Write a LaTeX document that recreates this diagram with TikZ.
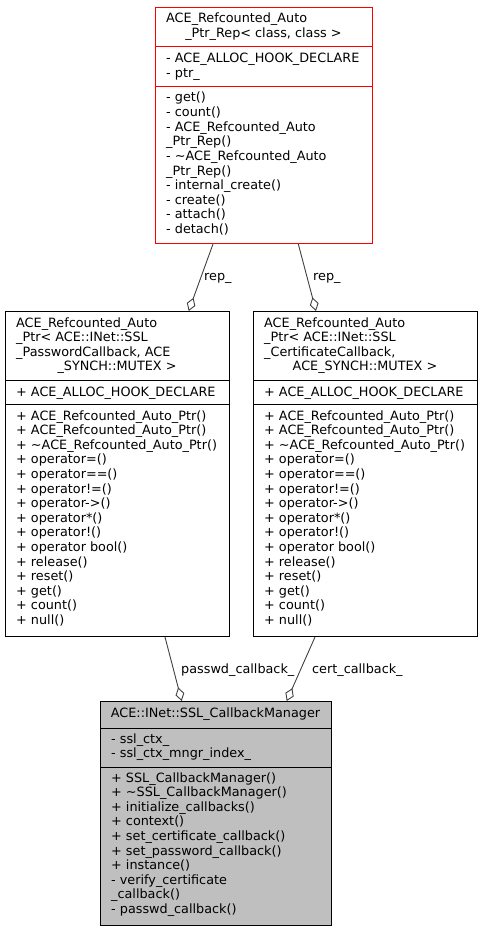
\documentclass[tikz,border=0pt]{standalone}
\usepackage{fontspec}
\setmainfont{DejaVu Sans}
\usetikzlibrary{arrows.meta}
\definecolor{edgegray}{HTML}{404040}
\definecolor{boxgray}{HTML}{BFBFBF}
\newcommand\txtlines[4]{%
  \foreach \l [count=\i from 0] in {#3} {\node[txt] (#4-\i) at (#1,{#2+14.6*\i}) {\l};}}
\begin{document}
\begin{tikzpicture}[x=1pt,y=-1pt,
  every node/.style={font=\fontsize{12.8}{14.6}\selectfont},
  txt/.style={anchor=base west, inner sep=0pt},
  ctxt/.style={anchor=base, inner sep=0pt},
  cls/.style={draw=black, line width=1pt, anchor=north west, inner sep=0pt},
  assoc/.style={draw=edgegray, line width=0.9pt, -{Diamond[open,length=14pt,width=9pt]}},
  lbl/.style={anchor=base west, inner sep=0pt}]
\useasboundingbox (0,0) rectangle (481,931);

% ---------- top box ----------
\node[cls, draw=red, minimum width=217pt, minimum height=236pt] (rep) at (155,7) {};
\draw[red, line width=1pt] (rep.west |- 0,47) -- (rep.east |- 0,47);
\draw[red, line width=1pt] (rep.west |- 0,87) -- (rep.east |- 0,87);
\node[txt] (rept1) at (166,23) {ACE\_Refcounted\_Auto};
\node[ctxt] (rept2) at (263.5,37.6) {\_Ptr\_Rep< class, class >};
\txtlines{166}{63}{{- ACE\_ALLOC\_HOOK\_DECLARE},{- ptr\_}}{repa}
\txtlines{166}{102}{{- get()},{- count()},{- ACE\_Refcounted\_Auto},{\_Ptr\_Rep()},{- \textasciitilde ACE\_Refcounted\_Auto},{\_Ptr\_Rep()},{- internal\_create()},{- create()},{- attach()},{- detach()}}{repm}

% ---------- left middle box ----------
\node[cls, minimum width=224pt, minimum height=325pt] (pw) at (5,311) {};
\draw[line width=1pt] (pw.west |- 0,380) -- (pw.east |- 0,380);
\draw[line width=1pt] (pw.west |- 0,404) -- (pw.east |- 0,404);
\txtlines{16}{327}{{ACE\_Refcounted\_Auto},{\_Ptr< ACE::INet::SSL},{\_PasswordCallback, ACE}}{pwt}
\node[ctxt] (pwt4) at (117,370.8) {\_SYNCH::MUTEX >};
\txtlines{16}{396}{{+ ACE\_ALLOC\_HOOK\_DECLARE}}{pwa}
\txtlines{16}{420}{{+ ACE\_Refcounted\_Auto\_Ptr()},{+ ACE\_Refcounted\_Auto\_Ptr()},{+ \textasciitilde ACE\_Refcounted\_Auto\_Ptr()},{+ operator=()},{+ operator==()},{+ operator!=()},{+ operator->()},{+ operator*()},{+ operator!()},{+ operator bool()},{+ release()},{+ reset()},{+ get()},{+ count()},{+ null()}}{pwm}

% ---------- right middle box ----------
\node[cls, minimum width=224pt, minimum height=325pt] (cb) at (253,311) {};
\draw[line width=1pt] (cb.west |- 0,380) -- (cb.east |- 0,380);
\draw[line width=1pt] (cb.west |- 0,404) -- (cb.east |- 0,404);
\txtlines{264}{327}{{ACE\_Refcounted\_Auto},{\_Ptr< ACE::INet::SSL},{\_CertificateCallback,}}{cbt}
\node[ctxt] (cbt4) at (365,370.8) {ACE\_SYNCH::MUTEX >};
\txtlines{264}{396}{{+ ACE\_ALLOC\_HOOK\_DECLARE}}{cba}
\txtlines{264}{420}{{+ ACE\_Refcounted\_Auto\_Ptr()},{+ ACE\_Refcounted\_Auto\_Ptr()},{+ \textasciitilde ACE\_Refcounted\_Auto\_Ptr()},{+ operator=()},{+ operator==()},{+ operator!=()},{+ operator->()},{+ operator*()},{+ operator!()},{+ operator bool()},{+ release()},{+ reset()},{+ get()},{+ count()},{+ null()}}{cbm}

% ---------- bottom box ----------
\node[cls, fill=boxgray, minimum width=231pt, minimum height=224pt] (mgr) at (100,701) {};
\draw[line width=1pt] (mgr.west |- 0,728) -- (mgr.east |- 0,728);
\draw[line width=1pt] (mgr.west |- 0,767) -- (mgr.east |- 0,767);
\node[ctxt] (mgrt) at (215.5,717) {ACE::INet::SSL\_CallbackManager};
\txtlines{111}{743}{{- ssl\_ctx\_},{- ssl\_ctx\_mngr\_index\_}}{mgra}
\txtlines{111}{782}{{+ SSL\_CallbackManager()},{+ \textasciitilde SSL\_CallbackManager()},{+ initialize\_callbacks()},{+ context()},{+ set\_certificate\_callback()},{+ set\_password\_callback()},{+ instance()},{- verify\_certificate},{\_callback()},{- passwd\_callback()}}{mgrm}

% ---------- connectors ----------
\draw[assoc] ([xshift=58pt]rep.south west) -- ([xshift=183.7pt]pw.north west);
\draw[assoc] ([xshift=143.3pt]rep.south west) -- ([xshift=63pt]cb.north west);
\draw[assoc] ([xshift=160pt]pw.south west) -- ([xshift=81.7pt]mgr.north west);
\draw[assoc] ([xshift=62pt]cb.south west) -- ([xshift=186.7pt]mgr.north west);

\node[lbl] (l1) at (204,280) {rep\_};
\node[lbl] (l2) at (313,280) {rep\_};
\node[lbl] (l3) at (181,673) {passwd\_callback\_};
\node[lbl] (l4) at (312,673) {cert\_callback\_};
\end{tikzpicture}
\end{document}
